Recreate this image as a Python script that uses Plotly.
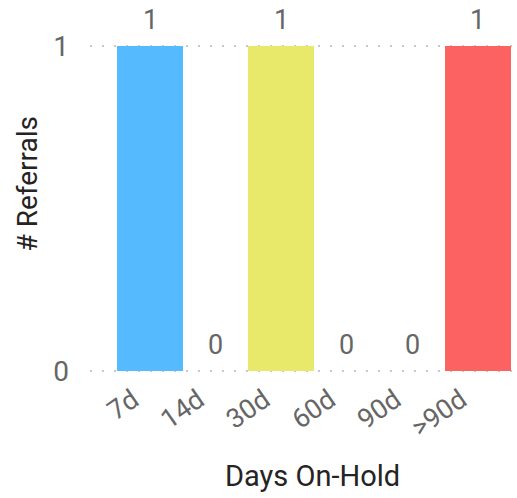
import plotly.graph_objects as go

categories = ["7d", "14d", "30d", "60d", "90d", ">90d"]
referrals = [1, 0, 1, 0, 0, 1]
bar_colors = ["#55BAFE", "#55BAFE", "#E8E96B", "#E8E96B", "#E8E96B", "#FD6262"]

FONT = "Roboto"
LABEL_GRAY = "#666666"
TITLE_DARK = "#252423"

fig = go.Figure(
    go.Bar(
        x=categories,
        y=referrals,
        marker=dict(color=bar_colors, line=dict(width=0)),
        hoverinfo="skip",
    )
)

# data labels above each bar
for cat, val in zip(categories, referrals):
    fig.add_annotation(
        x=cat, y=val, xref="x", yref="y", text=str(val),
        showarrow=False, yanchor="bottom", xanchor="center",
        yshift=9, borderpad=0,
        font=dict(family=FONT, size=27, color=LABEL_GRAY),
    )

fig.add_annotation(
    text="Days On-Hold", xref="paper", yref="paper", x=0.527, y=-0.318,
    xanchor="center", yanchor="middle", showarrow=False,
    font=dict(family=FONT, size=29, color=TITLE_DARK),
)
fig.add_annotation(
    text="# Referrals", xref="paper", yref="paper", x=-0.148, y=0.575,
    xanchor="center", yanchor="middle", showarrow=False, textangle=-90,
    font=dict(family=FONT, size=28, color=TITLE_DARK),
)

fig.update_layout(
    width=517,
    height=498,
    margin=dict(l=90, r=5, t=45, b=126, autoexpand=False),
    paper_bgcolor="white",
    plot_bgcolor="white",
    bargap=0,
    showlegend=False,
    font=dict(family=FONT),
)

fig.update_xaxes(
    type="category",
    range=[-0.915, 5.52],
    tickangle=-35,
    tickfont=dict(family=FONT, size=27, color=LABEL_GRAY),
    ticklabelshift=-17,
    ticklabelstandoff=6,
    showgrid=False,
    showline=False,
    zeroline=False,
    automargin=False,
)

fig.update_yaxes(
    range=[-0.004, 1.004],
    tickvals=[0, 1],
    ticktext=["0", "1"],
    tickfont=dict(family=FONT, size=28, color=LABEL_GRAY),
    ticklabelstandoff=20,
    showgrid=True,
    gridcolor="#C8C8C8",
    griddash="2px,10px",
    gridwidth=2,
    zeroline=False,
    showline=False,
    automargin=False,
)

fig.write_html(
    "out.html",
    config={"displayModeBar": False},
    post_script="document.body.style.margin='0';",
)
